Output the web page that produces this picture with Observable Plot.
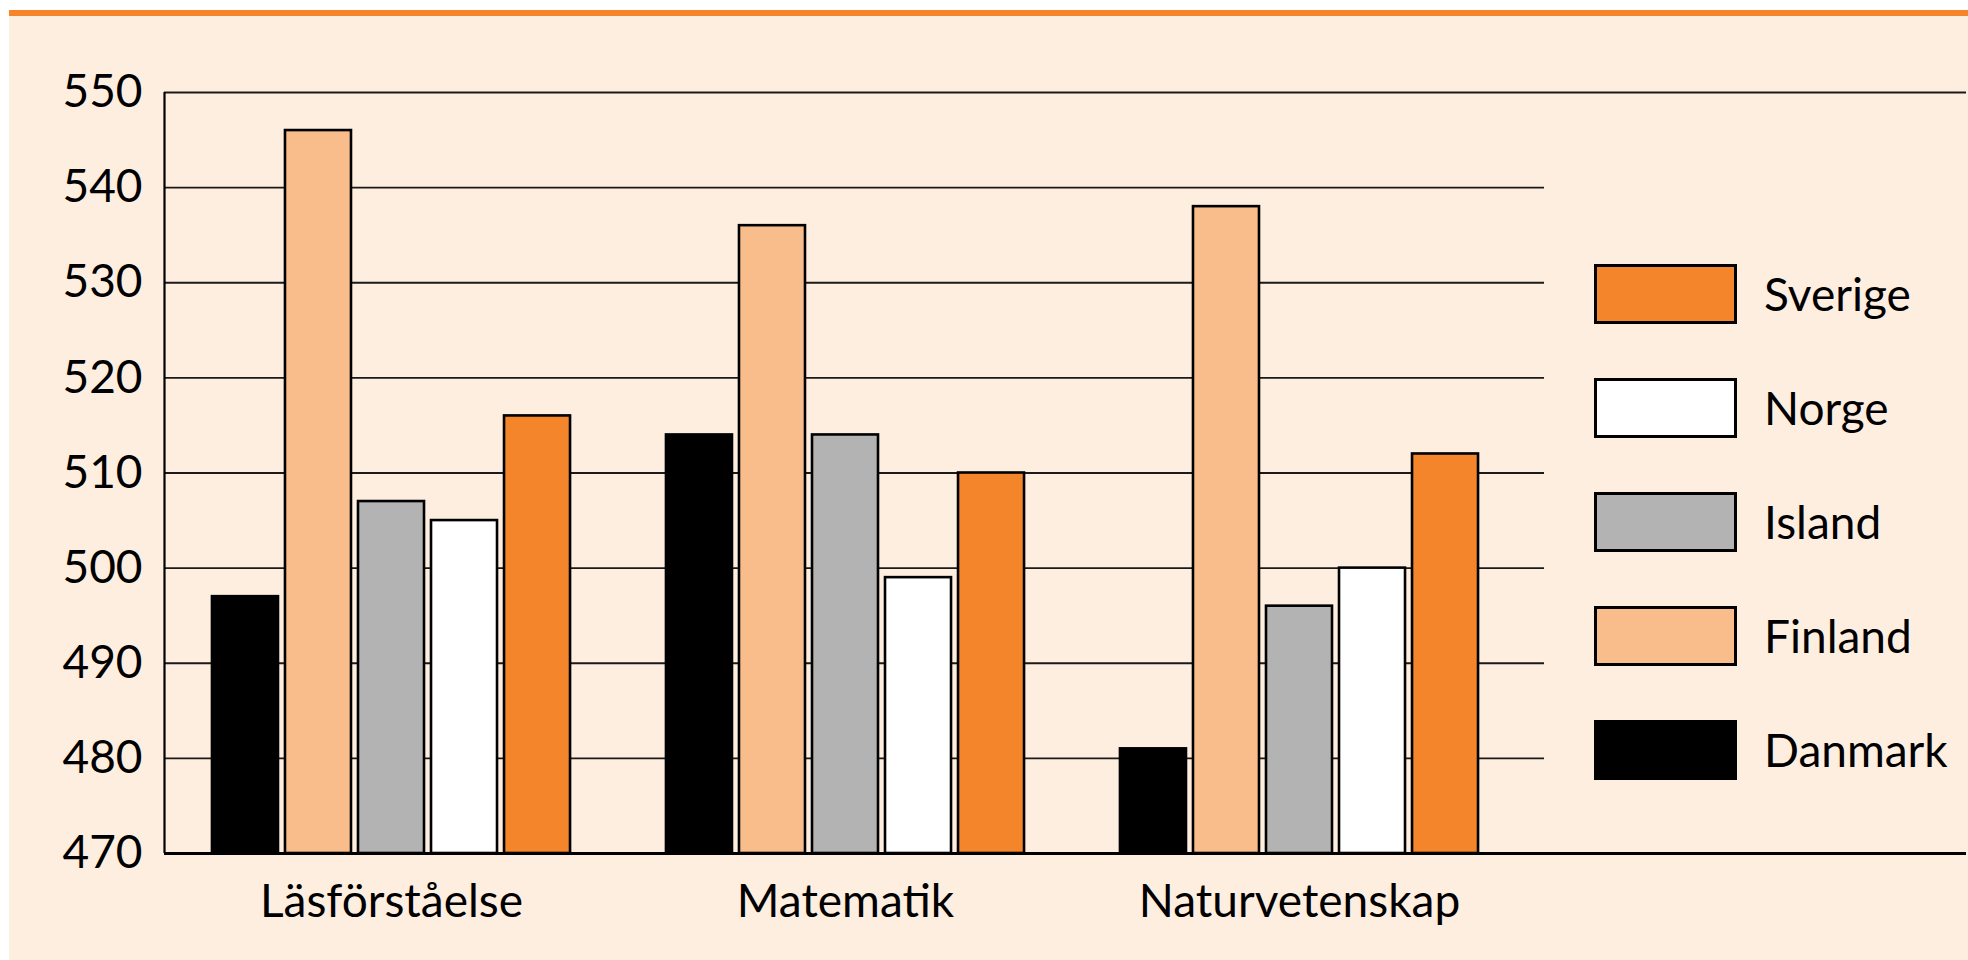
<!DOCTYPE html>
<html>
<head>
<meta charset="utf-8">
<script src="https://cdn.jsdelivr.net/npm/d3@7"></script>
<script src="https://cdn.jsdelivr.net/npm/@observablehq/plot@0.6"></script>
<style>
  html, body { margin: 0; padding: 0; background: #ffffff; }
  #wrap { position: relative; width: 1968px; height: 960px; overflow: hidden; font-family: Lato, "Open Sans", sans-serif; }
  #bg { position: absolute; left: 9px; top: 16px; right: 0; bottom: 0; background: #FEEEE0; }
  #topline { position: absolute; left: 9px; top: 10px; right: 0; height: 6px; background: #F5842B; }
  .layer { position: absolute; left: 0; top: 0; }
  #legend { position: absolute; left: 1594px; top: 264px; }
  .item { position: absolute; left: 0; display: flex; align-items: center; }
  .sw { width: 137px; height: 54px; border: 3px solid #000; box-sizing: content-box; }
  .lab { margin-left: 27px; font-size: 46px; color: #000; line-height: 1; }
</style>
</head>
<body>
<div id="wrap">
  <div id="bg"></div>
  <div id="topline"></div>
  <div id="grid" class="layer"></div>
  <div id="bars" class="layer"></div>
  <div id="axes" class="layer"></div>
  <div id="legend"></div>
</div>
<script>
// ---- data ----
const subjects = ["Läsförståelse", "Matematik", "Naturvetenskap"];
const countries = ["Danmark", "Finland", "Island", "Norge", "Sverige"];
const danmark = [497, 514, 481];
const finland = [546, 536, 538];
const island  = [507, 514, 496];
const norge   = [505, 499, 500];
const sverige = [516, 510, 512];
const countryColors = ["#000000", "#F9BD8B", "#B3B3B3", "#FFFFFF", "#F5852B"];
const legendOrder = ["Sverige", "Norge", "Island", "Finland", "Danmark"];
const yTicks = [470, 480, 490, 500, 510, 520, 530, 540, 550];

const series = {Danmark: danmark, Finland: finland, Island: island, Norge: norge, Sverige: sverige};
const data = [];
subjects.forEach((s, i) => countries.forEach(c => data.push({subject: s, country: c, value: series[c][i]})));

const W = 1968, H = 960, mTop = 92, mBottom = 107, mLeft = 164;
const yDomain = [yTicks[0], yTicks[yTicks.length - 1]];
const inner = yTicks.slice(1, -1);
const font = "Lato, 'Open Sans', sans-serif";
const baseStyle = {background: "transparent", overflow: "visible", fontFamily: font, color: "#000", maxWidth: "none"};

// gridlines (end before legend)
const grid = Plot.plot({
  width: 1544, height: H, marginTop: mTop, marginBottom: mBottom, marginLeft: mLeft, marginRight: 0,
  style: baseStyle,
  y: {domain: yDomain, axis: null},
  marks: [Plot.ruleY(inner, {stroke: "#1a1a1a", strokeWidth: 1.8})]
});
document.getElementById("grid").append(grid);

// bars, faceted by subject
const bars = Plot.plot({
  width: W, height: H, marginTop: mTop, marginBottom: mBottom, marginLeft: mLeft, marginRight: W - mLeft - 3 * 454,
  style: baseStyle,
  y: {domain: yDomain, axis: null},
  fx: {domain: subjects, paddingInner: 0, paddingOuter: 0, label: null, axis: null},
  x: {domain: countries, paddingInner: 0.096, paddingOuter: 0.657, axis: null, round: false},
  color: {domain: countries, range: countryColors},
  marks: [
    Plot.barY(data, {fx: "subject", x: "country", y1: yTicks[0], y2: "value", fill: "country", stroke: "#000", strokeWidth: 2.6}),
    Plot.axisFx({anchor: "bottom", tickSize: 0, tickPadding: 31, fontSize: 46, label: null})
  ]
});
document.getElementById("bars").append(bars);

// axes: y labels, left line, top line, base line
const axes = Plot.plot({
  width: W, height: H, marginTop: mTop, marginBottom: mBottom, marginLeft: mLeft, marginRight: 2,
  style: baseStyle,
  x: {domain: [0, 1], axis: null},
  y: {domain: yDomain, axis: null, label: null},
  marks: [
    Plot.axisY(yTicks, {tickSize: 0, tickPadding: 22, fontSize: 46, label: null}),
    Plot.ruleY([yDomain[1]], {stroke: "#1a1a1a", strokeWidth: 1.8}),
    Plot.ruleX([0], {stroke: "#000", strokeWidth: 2.2}),
    Plot.ruleY([yDomain[0]], {stroke: "#000", strokeWidth: 3.2})
  ]
});
document.getElementById("axes").append(axes);

// legend
const leg = document.getElementById("legend");
legendOrder.forEach((c, i) => {
  const item = document.createElement("div");
  item.className = "item";
  item.style.top = (i * 114) + "px";
  const sw = document.createElement("div");
  sw.className = "sw";
  sw.style.background = countryColors[countries.indexOf(c)];
  const lab = document.createElement("span");
  lab.className = "lab";
  lab.textContent = c;
  item.append(sw, lab);
  leg.append(item);
});
</script>
</body>
</html>
